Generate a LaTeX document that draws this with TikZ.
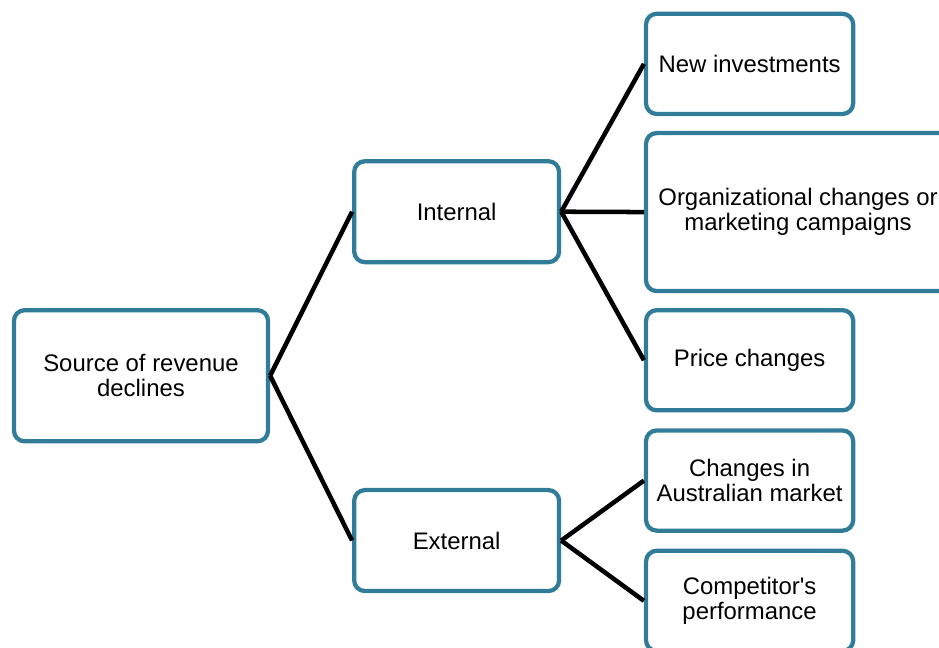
\documentclass[tikz,border=0pt]{standalone}
\usepackage{xcolor}
\usepackage{fontspec}
\setmainfont{Liberation Sans}
\usepackage{tikz}
\usetikzlibrary{positioning}
\definecolor{boxteal}{RGB}{49, 125, 153}

\begin{document}
\begin{tikzpicture}[
    every node/.style={font=\fontsize{18pt}{18.5pt}\selectfont},
    treebox/.style={
        rectangle,
        draw=boxteal,
        line width=3.2pt,
        fill=white,
        rounded corners=8pt,
        align=center,
        inner sep=4pt
    },
    rootbox/.style={treebox, minimum width=6.72cm, minimum height=3.47cm},
    midbox/.style={treebox, minimum width=5.42cm, minimum height=2.67cm},
    leafbox/.style={treebox, minimum width=5.48cm, minimum height=2.65cm},
    link/.style={
        line width=3.4pt,
        draw=black
    }
]
\clip (0, 0) rectangle (24.84, -17.12);

% ==================== ROOT ====================
\node (source) [rootbox] at (3.73, -9.94) {Source of revenue\\declines};

% ==================== SECOND LEVEL ====================
\node (internal) [midbox] at (12.08, -5.60) {Internal};
\node (external) [midbox] at (12.08, -14.30) {External};

% ==================== INTERNAL CAUSES ====================
\node (investments) [leafbox] at (19.83, -1.69) {New investments};
\node (organization) [treebox, minimum width=8.04cm, minimum height=4.18cm] at (21.11, -5.61) {Organizational changes or\\marketing campaigns};
\node (prices) [leafbox] at (19.83, -9.53) {Price changes};

% ==================== EXTERNAL CAUSES ====================
\node (market) [leafbox, below=0.42cm of prices] {Changes in\\Australian market};
\node (competitor) [leafbox, below=0.42cm of market] {Competitor\textquotesingle s\\performance};

% ==================== CONNECTIONS ====================
\draw [link] (source.east) -- (internal.west);
\draw [link] (source.east) -- (external.west);

\draw [link] (internal.east) -- (investments.west);
\draw [link] (internal.east) -- (organization.west);
\draw [link] (internal.east) -- (prices.west);

\draw [link] (external.east) -- (market.west);
\draw [link] (external.east) -- (competitor.west);

\end{tikzpicture}
\end{document}
